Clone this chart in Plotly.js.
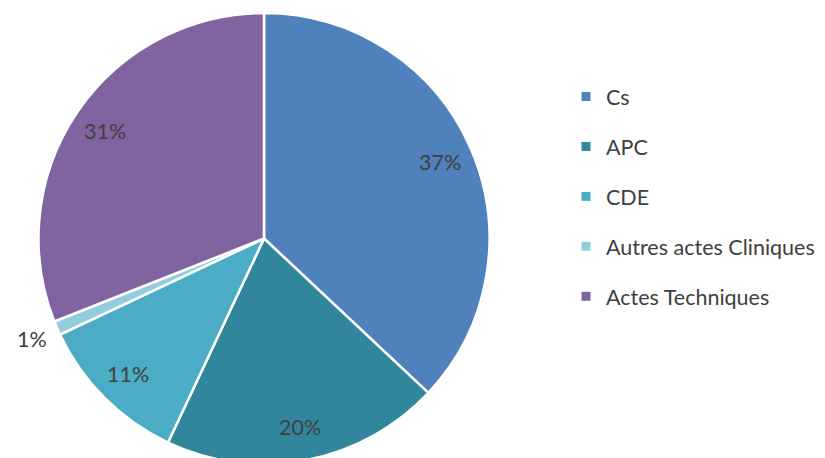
<!DOCTYPE html>
<html>
<head>
<meta charset="utf-8">
<script src="https://cdn.plot.ly/plotly-3.0.1.min.js"></script>
<style>
html,body{margin:0;padding:0;overflow:hidden;background:#fff;}
#chart{width:825px;height:464px;}
</style>
</head>
<body>
<div id="chart"></div>
<script>
const labels = ['Cs', 'APC', 'CDE', 'Autres actes Cliniques', 'Actes Techniques'];
const values = [37, 20, 11, 1, 31];
const colors = ['#4F81BD', '#31859C', '#4BACC6', '#93CDDD', '#8064A2'];

const W = 825, H = 464, MT = 13, MB = 0;
const domX = [38 / W, 490 / W];
const plotH = H - MT - MB;
const cx = (domX[0] + domX[1]) / 2 * W;
const cy = MT + plotH / 2;
const R = Math.min((domX[1] - domX[0]) * W, plotH) / 2;
const FONT = 'Lato, "Open Sans", sans-serif';
const TXT = '#404040';

const total = values.reduce((a, b) => a + b, 0);
const annotations = [];
let cum = 0;
values.forEach((v, i) => {
  const frac = v / total;
  const mid = (cum + frac / 2) * 2 * Math.PI;
  cum += frac;
  const rr = frac < 0.03 ? R * 1.12 : R * 0.85;
  const px = cx + rr * Math.sin(mid);
  const py = cy - rr * Math.cos(mid);
  annotations.push({
    x: px / W, y: (H - MB - py) / plotH, xref: 'paper', yref: 'paper',
    text: Math.round(frac * 100) + '%', showarrow: false,
    xanchor: 'center', yanchor: 'middle',
    font: {family: FONT, size: 21.5, color: TXT}
  });
});

const traces = [{
  type: 'pie', labels: labels, values: values, sort: false,
  direction: 'clockwise', rotation: 0, textinfo: 'none',
  marker: {colors: colors, line: {color: '#ffffff', width: 2.5}},
  domain: {x: domX, y: [0, 1]}, showlegend: false, hoverinfo: 'label+percent'
}];
labels.forEach((l, i) => {
  traces.push({
    type: 'scatter', mode: 'markers', x: [null], y: [null], name: l,
    legendgroup: 'g' + i, showlegend: true,
    marker: {symbol: 'square', size: 9, color: colors[i]}
  });
});

const layout = {
  width: W, height: H,
  margin: {l: 0, r: 0, t: MT, b: MB, pad: 0, autoexpand: false},
  paper_bgcolor: '#ffffff', plot_bgcolor: '#ffffff',
  xaxis: {visible: false}, yaxis: {visible: false},
  showlegend: true,
  legend: {
    x: 566 / W, y: (H - MB - 76) / plotH, xanchor: 'left', yanchor: 'top',
    font: {family: FONT, size: 21.5, color: TXT},
    tracegroupgap: 19, itemwidth: 30, bgcolor: 'rgba(0,0,0,0)'
  },
  annotations: annotations
};

Plotly.newPlot('chart', traces, layout, {displayModeBar: false, staticPlot: true});
</script>
</body>
</html>
